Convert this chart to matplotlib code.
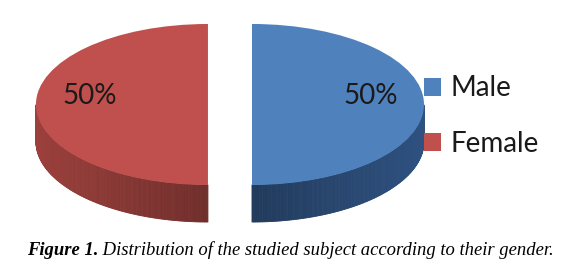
import numpy as np
import matplotlib.pyplot as plt
from matplotlib.collections import PolyCollection
from matplotlib.colors import to_rgb

# data
labels = ['Male', 'Female']
shares = [50, 50]
top_colors = ['#4F81BD', '#C0504D']
side_colors = ['#2E5180', '#9C403C']
caption_bold = 'Figure 1.'
caption_rest = ' Distribution of the studied subject according to their gender.'

explode = 0.128   # gap between the halves, in radius units
depth = 0.46      # thickness of the disc, in (squashed) radius units

fig = plt.figure(figsize=(5.64, 2.72), dpi=100)
ax = fig.add_axes([0, 0, 1, 1])

# side walls: thin strips along the front (lower) rim of each wedge
fracs = np.array(shares) / sum(shares)
start = 90.0
for frac, col in zip(fracs, side_colors):
    th2 = start
    th1 = start - frac * 360
    mid = np.deg2rad((th1 + th2) / 2)
    cx, cy = explode * np.cos(mid), explode * np.sin(mid)
    ang = np.deg2rad(np.linspace(th1, th2, 300))
    base = np.array(to_rgb(col))
    quads, cols = [], []
    for a0, a1 in zip(ang[:-1], ang[1:]):
        if np.sin(a0) > 1e-9 or np.sin(a1) > 1e-9:
            continue
        x0, y0 = cx + np.cos(a0), cy + np.sin(a0)
        x1, y1 = cx + np.cos(a1), cy + np.sin(a1)
        quads.append([(x0, y0), (x1, y1), (x1, y1 - depth), (x0, y0 - depth)])
        f = 0.72 + 0.28 * abs(np.cos((a0 + a1) / 2))
        cols.append(np.clip(base * f, 0, 1))
    ax.add_collection(PolyCollection(quads, facecolors=cols, edgecolors=cols,
                                     linewidths=0.6))
    start = th1

# top face
wedges, _, pct = ax.pie(shares, colors=top_colors, startangle=90,
                        counterclock=False, explode=[explode] * len(shares),
                        autopct='%d%%', pctdistance=0.69,
                        wedgeprops=dict(linewidth=0),
                        textprops=dict(fontsize=20, family='Lato',
                                       color='#1a1a1a'))
for t in pct:
    x, y = t.get_position()
    t.set_position((x, y + 0.1))

ax.set_aspect('auto')
ax.set_xlim(-1.337, 1.942)
ax.set_ylim(-2.081, 1.298)
ax.axis('off')

leg = fig.legend(wedges, labels, loc='center left',
                 bbox_to_anchor=(424 / 564, 1 - 116 / 272),
                 frameon=False, borderpad=0, borderaxespad=0,
                 handlelength=0.62, handleheight=0.62, handletextpad=0.33,
                 labelspacing=1.05, prop=dict(family='Lato', size=20))
for t in leg.get_texts():
    t.set_color('#1a1a1a')

# caption
cap = fig.text(27 / 564, 1 - 255 / 272, caption_bold, family='Liberation Serif',
               style='italic', weight='bold', fontsize=13.4, va='baseline')
ax.annotate(caption_rest, xy=(1, 0), xycoords=cap, va='bottom',
            family='Liberation Serif', style='italic', fontsize=13.4,
            annotation_clip=False)

fig.savefig('out.png', dpi=100)
